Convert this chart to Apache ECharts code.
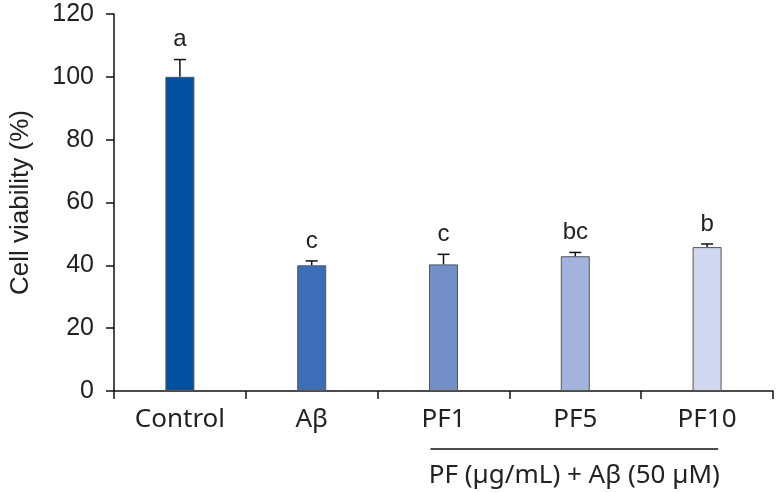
<!DOCTYPE html>
<html>
<head>
<meta charset="utf-8">
<script src="https://cdn.jsdelivr.net/npm/echarts@6/dist/echarts.min.js"></script>
<style>html,body{margin:0;padding:0;background:#fff}#chart{width:776px;height:492px}</style>
</head>
<body>
<div id="chart"></div>
<script>
var categories = ['Control', 'A\u03b2', 'PF1', 'PF5', 'PF10'];
var viability = [100, 40.0, 40.3, 42.9, 45.8];
var errors = [5.5, 1.4, 3.2, 1.2, 1.0];
var letters = ['a', 'c', 'c', 'bc', 'b'];
var barColors = ['#0451a4', '#3b6db8', '#738fc8', '#a4b3de', '#d1d7ee'];
var yTicks = [0, 20, 40, 60, 80, 100, 120];
var groupLabel = 'PF (\u00b5g/mL) + A\u03b2 (50 \u00b5M)';
var groupMembers = ['PF1', 'PF10'];

var chart = echarts.init(document.getElementById('chart'));
var catFont = '"Noto Sans", sans-serif';
var numFont = '"Liberation Sans", Arial, sans-serif';

var option = {
  animation: false,
  grid: { left: 111, right: 3, top: 14, bottom: 101, containLabel: false },
  xAxis: {
    type: 'category',
    data: categories,
    axisLine: { lineStyle: { color: '#111', width: 1.5 } },
    axisTick: { show: true, alignWithLabel: false, length: 8, lineStyle: { color: '#111', width: 1.5 } },
    axisLabel: { color: '#222', fontSize: 26, fontFamily: catFont, margin: 16 }
  },
  yAxis: {
    type: 'value',
    min: yTicks[0], max: yTicks[yTicks.length - 1], interval: 20,
    name: 'Cell viability (%)',
    nameLocation: 'middle', nameRotate: 90, nameGap: 80,
    nameTextStyle: { color: '#222', fontSize: 26, fontFamily: numFont },
    splitLine: { show: false },
    axisLine: { show: true, lineStyle: { color: '#111', width: 1.5 } },
    axisTick: { show: true, length: 8, lineStyle: { color: '#111', width: 1.5 } },
    axisLabel: { color: '#222', fontSize: 25, fontFamily: numFont, margin: 20 }
  },
  series: [
    {
      type: 'bar',
      barWidth: 29,
      data: viability.map(function (v, i) {
        return { value: v, itemStyle: { color: barColors[i] } };
      }),
      itemStyle: { borderColor: '#555', borderWidth: 1 }
    },
    {
      type: 'custom',
      data: viability.map(function (v, i) { return [i, v, errors[i]]; }),
      renderItem: function (params, api) {
        var x = api.value(0), v = api.value(1), e = api.value(2);
        var base = api.coord([x, v]);
        var top = api.coord([x, v + e]);
        var cw = 6;
        return {
          type: 'group',
          children: [
            { type: 'line', shape: { x1: top[0], y1: base[1], x2: top[0], y2: top[1] }, style: { stroke: '#111', lineWidth: 1.5 } },
            { type: 'line', shape: { x1: top[0] - cw, y1: top[1], x2: top[0] + cw, y2: top[1] }, style: { stroke: '#111', lineWidth: 1.5 } },
            { type: 'text', x: top[0], y: top[1] - 8, style: { text: letters[params.dataIndex], fill: '#222', font: '24px ' + numFont, align: 'center', verticalAlign: 'bottom' } }
          ]
        };
      },
      z: 5
    }
  ]
};
chart.setOption(option);

var p1 = chart.convertToPixel({ xAxisIndex: 0 }, groupMembers[0]);
var p2 = chart.convertToPixel({ xAxisIndex: 0 }, groupMembers[1]);
var yBase = chart.convertToPixel({ yAxisIndex: 0 }, 0);
var x1 = p1 - 13, x2 = p2 + 11;
chart.setOption({
  graphic: [
    { type: 'line', shape: { x1: x1, y1: yBase + 58, x2: x2, y2: yBase + 58 }, style: { stroke: '#111', lineWidth: 1.5 } },
    { type: 'text', x: (x1 + x2) / 2, y: yBase + 85, style: { text: groupLabel, fill: '#222', font: '26px ' + catFont, align: 'center', verticalAlign: 'middle' } }
  ]
});
</script>
</body>
</html>
